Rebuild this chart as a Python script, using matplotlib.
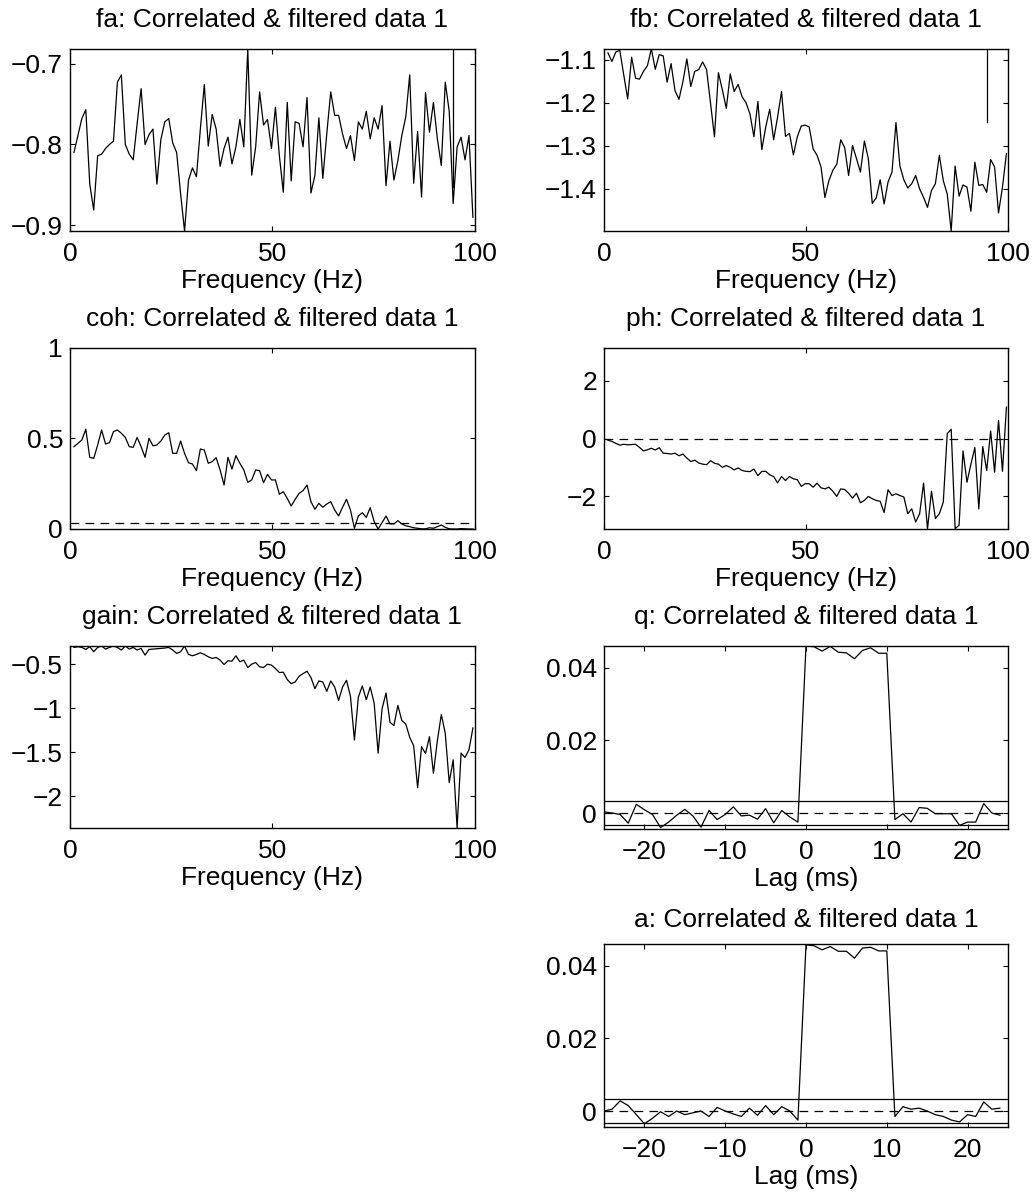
import numpy as np
import matplotlib
matplotlib.use("Agg")
import matplotlib.pyplot as plt
from matplotlib.ticker import FuncFormatter

plt.rcParams['font.family'] = ['Liberation Sans', 'DejaVu Sans']

# ---------------- data ----------------
df = 1000.0 / 1024.0
freq = np.arange(1, 103) * df          # frequency bins (Hz)
lag = np.arange(-25, 25)                # lag bins (ms)

fa = [-0.810, -0.789, -0.768, -0.757, -0.849, -0.881, -0.814, -0.812, -0.805, -0.800,
      -0.796, -0.723, -0.714, -0.800, -0.812, -0.819, -0.774, -0.731, -0.800, -0.788,
      -0.781, -0.849, -0.794, -0.772, -0.768, -0.798, -0.810, -0.861, -0.907, -0.844,
      -0.829, -0.840, -0.781, -0.726, -0.802, -0.763, -0.781, -0.827, -0.805, -0.791,
      -0.824, -0.803, -0.769, -0.803, -0.682, -0.838, -0.803, -0.735, -0.776, -0.769,
      -0.805, -0.754, -0.814, -0.859, -0.748, -0.845, -0.772, -0.774, -0.803, -0.742,
      -0.860, -0.838, -0.767, -0.842, -0.787, -0.735, -0.764, -0.764, -0.787, -0.805,
      -0.789, -0.820, -0.772, -0.781, -0.759, -0.793, -0.767, -0.781, -0.752, -0.851,
      -0.796, -0.844, -0.820, -0.789, -0.766, -0.714, -0.848, -0.784, -0.865, -0.736,
      -0.785, -0.748, -0.793, -0.826, -0.723, -0.759, -0.873, -0.803, -0.791, -0.819,
      -0.789, -0.890]

fb = [-1.084, -1.104, -1.082, -1.078, -1.135, -1.191, -1.094, -1.143, -1.145, -1.127,
      -1.114, -1.075, -1.122, -1.088, -1.091, -1.152, -1.109, -1.172, -1.192, -1.151,
      -1.098, -1.162, -1.127, -1.123, -1.105, -1.123, -1.201, -1.279, -1.130, -1.170,
      -1.213, -1.133, -1.174, -1.157, -1.186, -1.200, -1.226, -1.279, -1.197, -1.309,
      -1.256, -1.215, -1.286, -1.233, -1.174, -1.278, -1.271, -1.321, -1.279, -1.254,
      -1.252, -1.256, -1.307, -1.322, -1.349, -1.420, -1.381, -1.357, -1.343, -1.286,
      -1.304, -1.369, -1.299, -1.330, -1.361, -1.289, -1.330, -1.434, -1.421, -1.379,
      -1.435, -1.384, -1.361, -1.246, -1.347, -1.379, -1.398, -1.388, -1.369, -1.400,
      -1.420, -1.443, -1.404, -1.388, -1.322, -1.381, -1.412, -1.498, -1.347, -1.417,
      -1.391, -1.396, -1.452, -1.338, -1.392, -1.390, -1.408, -1.332, -1.349, -1.456,
      -1.396, -1.318]

# confidence-interval bars on log spectra (x position, y from/to)
fa_ci_x = 94.6
fa_ci_y = [-0.682, -0.852]
fb_ci_x = 94.7
fb_ci_y = [-1.075, -1.244]

coh = [0.455, 0.473, 0.492, 0.551, 0.396, 0.390, 0.464, 0.547, 0.470, 0.477,
       0.538, 0.547, 0.529, 0.506, 0.455, 0.451, 0.506, 0.455, 0.396, 0.501,
       0.460, 0.464, 0.486, 0.519, 0.532, 0.418, 0.418, 0.486, 0.418, 0.366,
       0.359, 0.322, 0.442, 0.436, 0.363, 0.372, 0.394, 0.326, 0.243, 0.396,
       0.331, 0.405, 0.363, 0.326, 0.258, 0.271, 0.326, 0.322, 0.256, 0.302,
       0.271, 0.271, 0.192, 0.206, 0.169, 0.127, 0.164, 0.197, 0.212, 0.243,
       0.151, 0.109, 0.142, 0.120, 0.138, 0.151, 0.105, 0.072, 0.120, 0.164,
       0.105, 0.004, 0.072, 0.090, 0.064, 0.118, 0.041, 0.000, 0.035, 0.072,
       0.028, 0.028, 0.046, 0.028, 0.018, 0.013, 0.007, 0.004, 0.001, 0.001,
       0.007, 0.004, 0.013, 0.022, 0.009, 0.001, 0.000, 0.000, 0.002, 0.001,
       0.000, 0.000]
coh_conf = 0.031

ph = [-0.06, -0.10, -0.17, -0.23, -0.20, -0.22, -0.21, -0.20, -0.31, -0.43,
      -0.39, -0.34, -0.40, -0.32, -0.51, -0.52, -0.54, -0.51, -0.60, -0.54,
      -0.68, -0.80, -0.75, -0.85, -0.89, -0.91, -0.77, -0.86, -0.89, -1.00,
      -0.94, -1.00, -1.09, -1.02, -1.11, -1.14, -1.15, -1.06, -1.29, -1.14,
      -1.14, -1.26, -1.32, -1.54, -1.32, -1.46, -1.32, -1.40, -1.43, -1.66,
      -1.57, -1.57, -1.69, -1.55, -1.71, -1.75, -1.69, -1.83, -2.01, -1.75,
      -1.77, -1.90, -2.07, -1.90, -2.23, -2.15, -2.01, -2.09, -2.15, -2.18,
      -2.57, -1.78, -1.98, -1.92, -1.98, -2.03, -2.61, -2.44, -2.90, -2.61,
      -1.55, -3.14, -1.83, -2.78, -2.61, -2.21, 0.17, 0.32, -3.13, -3.01,
      -0.43, -1.52, -0.89, -0.31, -2.44, -0.28, -1.11, 0.26, -1.17, 0.63,
      -1.14, 1.09]

gain = [-0.310, -0.302, -0.310, -0.333, -0.302, -0.359, -0.310, -0.294, -0.329, -0.310,
        -0.294, -0.310, -0.340, -0.294, -0.329, -0.310, -0.340, -0.321, -0.397, -0.333,
        -0.329, -0.325, -0.321, -0.317, -0.310, -0.340, -0.378, -0.359, -0.294, -0.390,
        -0.405, -0.390, -0.371, -0.390, -0.416, -0.435, -0.424, -0.454, -0.504, -0.462,
        -0.466, -0.405, -0.473, -0.454, -0.538, -0.500, -0.481, -0.530, -0.538, -0.500,
        -0.511, -0.549, -0.595, -0.591, -0.675, -0.721, -0.702, -0.637, -0.607, -0.580,
        -0.652, -0.778, -0.690, -0.702, -0.808, -0.690, -0.759, -0.911, -0.759, -0.683,
        -0.865, -1.360, -0.873, -0.747, -0.903, -0.759, -0.942, -1.509, -1.006, -0.827,
        -1.159, -1.197, -0.968, -1.140, -1.178, -1.330, -1.425, -1.901, -1.436, -1.513,
        -1.322, -1.737, -1.368, -1.071, -1.284, -1.844, -1.585, -2.358, -1.509, -1.558,
        -1.471, -1.223]

q = [0.0003, 0.0000, -0.0004, -0.0028, 0.0024, 0.0009, -0.0004, -0.0040, -0.0025, -0.0006,
     0.0010, -0.0008, -0.0039, 0.0007, -0.0018, -0.0004, 0.0017, -0.0008, -0.0006, -0.0017,
     0.0012, -0.0027, 0.0007, -0.0011, -0.0025,
     0.0460, 0.0458, 0.0446, 0.0459, 0.0443, 0.0441, 0.0425, 0.0448, 0.0455, 0.0440, 0.0440,
     -0.0018, -0.0002, -0.0025, 0.0015, 0.0013, -0.0002, -0.0002, -0.0002, -0.0034, -0.0025,
     -0.0025, 0.0026, 0.0000, -0.0006]

a = [0.0000, 0.0005, 0.0028, 0.0015, -0.0010, -0.0035, -0.0020, -0.0002, -0.0015, 0.0000,
     -0.0010, -0.0005, 0.0000, -0.0015, 0.0010, 0.0000, -0.0008, -0.0015, 0.0008, -0.0012,
     0.0015, -0.0010, 0.0012, 0.0000, -0.0025,
     0.0458, 0.0455, 0.0444, 0.0453, 0.0440, 0.0440, 0.0421, 0.0449, 0.0451, 0.0441, 0.0441,
     -0.0015, 0.0012, 0.0005, 0.0008, 0.0000, -0.0010, -0.0015, -0.0025, -0.0030, -0.0010,
     -0.0015, 0.0025, 0.0005, 0.0008]
q_ci = 0.0033
a_ci = 0.0033

titles = ["fa: Correlated & filtered data 1", "fb: Correlated & filtered data 1",
          "coh: Correlated & filtered data 1", "ph: Correlated & filtered data 1",
          "gain: Correlated & filtered data 1", "q: Correlated & filtered data 1",
          "a: Correlated & filtered data 1"]
freq_label = "Frequency (Hz)"
lag_label = "Lag (ms)"

# ---------------- figure ----------------
W, H = 1034, 1198
fig = plt.figure(figsize=(W / 100, H / 100), dpi=100)
FS = 19
LW = 0.9


def mk(l, t, r, b):
    return fig.add_axes([l / W, 1 - b / H, (r - l) / W, (b - t) / H])


fmt = FuncFormatter(lambda v, p: ('%g' % round(v, 10)).replace('-', '\u2212'))


def style(ax, title, xlabel, xticks, yticks, tpad=15.5):
    ax.set_title(title, fontsize=FS, pad=tpad)
    ax.set_xlabel(xlabel, fontsize=FS, labelpad=2)
    ax.set_xticks(xticks)
    ax.set_yticks(yticks)
    ax.xaxis.set_major_formatter(fmt)
    ax.yaxis.set_major_formatter(fmt)
    ax.tick_params(direction='in', length=3.5, width=0.8, top=True, right=True,
                   labelsize=FS)
    ax.tick_params(axis='x', pad=8)
    ax.tick_params(axis='y', pad=5)
    for s in ax.spines.values():
        s.set_linewidth(1.0)


dash = (0, (7, 5))

# fa
ax = mk(70, 49, 474.5, 231)
ax.plot(freq, fa, color='k', lw=LW)
ax.plot([fa_ci_x, fa_ci_x], fa_ci_y, color='k', lw=LW)
ax.set_xlim(0, 100)
ax.set_ylim(min(fa), max(fa))
style(ax, titles[0], freq_label, [0, 50, 100], [-0.9, -0.8, -0.7])

# fb
ax = mk(604, 49, 1008, 231)
ax.plot(freq, fb, color='k', lw=LW)
ax.plot([fb_ci_x, fb_ci_x], fb_ci_y, color='k', lw=LW)
ax.set_xlim(0, 100)
ax.set_ylim(min(fb), max(fb))
style(ax, titles[1], freq_label, [0, 50, 100], [-1.4, -1.3, -1.2, -1.1])

# coh
ax = mk(70, 348, 474.5, 529)
ax.plot(freq, coh, color='k', lw=LW)
ax.axhline(coh_conf, color='k', lw=LW, ls=dash)
ax.set_xlim(0, 100)
ax.set_ylim(0, 1)
style(ax, titles[2], freq_label, [0, 50, 100], [0, 0.5, 1])

# ph
ax = mk(604, 348, 1008, 529)
ax.plot(freq, ph, color='k', lw=LW)
ax.axhline(0, color='k', lw=LW, ls=dash)
ax.set_xlim(0, 100)
ax.set_ylim(-np.pi, np.pi)
style(ax, titles[3], freq_label, [0, 50, 100], [-2, 0, 2])

# gain
ax = mk(70, 646, 474.5, 828)
ax.plot(freq, gain, color='k', lw=LW)
ax.set_xlim(0, 100)
ax.set_ylim(min(gain), max(gain))
style(ax, titles[4], freq_label, [0, 50, 100], [-2, -1.5, -1, -0.5])

# q
ax = mk(604, 646, 1008, 829)
ax.plot(lag, q, color='k', lw=LW)
ax.axhline(0, color='k', lw=LW, ls=dash)
ax.axhline(q_ci, color='k', lw=LW)
ax.axhline(-q_ci, color='k', lw=LW)
ax.set_xlim(-25, 25)
ax.set_ylim(min(q) - 0.0004, max(q))
style(ax, titles[5], lag_label, [-20, -10, 0, 10, 20], [0, 0.02, 0.04])

# a
ax = mk(604, 944, 1008, 1127)
ax.plot(lag, a, color='k', lw=LW)
ax.axhline(0, color='k', lw=LW, ls=dash)
ax.axhline(a_ci, color='k', lw=LW)
ax.axhline(-a_ci, color='k', lw=LW)
ax.set_xlim(-25, 25)
ax.set_ylim(-0.0044, max(a) + 0.0002)
style(ax, titles[6], lag_label, [-20, -10, 0, 10, 20], [0, 0.02, 0.04], tpad=12)

fig.savefig("out.png", dpi=100, facecolor='white')
